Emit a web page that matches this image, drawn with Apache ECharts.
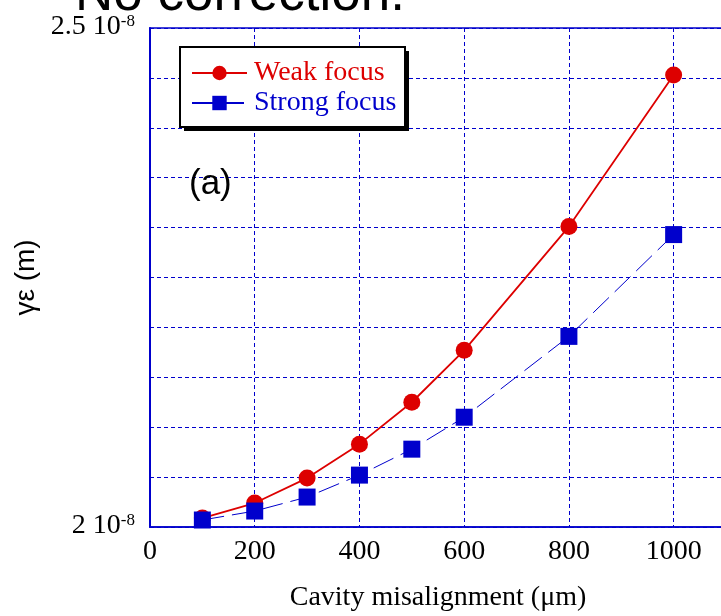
<!DOCTYPE html>
<html><head><meta charset="utf-8">
<script src="https://cdn.jsdelivr.net/npm/echarts@6/dist/echarts.min.js"></script>
<style>html,body{margin:0;padding:0;background:#fff}#c{width:721px;height:616px}</style>
</head><body><div id="c"></div>
<script>
const misalign = [100, 200, 300, 400, 500, 600, 800, 1000];
const weakFocus = [2.009e-8, 2.024e-8, 2.049e-8, 2.083e-8, 2.125e-8, 2.177e-8, 2.301e-8, 2.453e-8];
const strongFocus = [2.007e-8, 2.016e-8, 2.030e-8, 2.052e-8, 2.078e-8, 2.110e-8, 2.191e-8, 2.293e-8];
const xTicks = [0, 200, 400, 600, 800, 1000];
const yTickLabels = {min: ['2 10', '-8'], max: ['2.5 10', '-8']};

const RED = '#dd0000', BLUE = '#0000cc';
const serif = 'Liberation Serif', sans = 'Liberation Sans';
const chart = echarts.init(document.getElementById('c'));
chart.setOption({
  animation: false,
  backgroundColor: '#fff',
  grid: {left: 150, top: 28, width: 576, height: 499, show: true, borderColor: BLUE, borderWidth: 1.5, z: 1,
    containLabel: false, outerBoundsMode: 'none'},
  xAxis: {
    type: 'value', min: 0, max: 1100, interval: 200,
    name: 'Cavity misalignment (\u03bcm)', nameLocation: 'middle', nameGap: 57,
    nameTextStyle: {fontFamily: serif, fontSize: 28, color: '#000'},
    axisLine: {show: true, lineStyle: {color: BLUE, width: 1.5}},
    axisTick: {show: false},
    axisLabel: {fontFamily: serif, fontSize: 28, color: '#000', margin: 11,
      formatter: v => xTicks.includes(v) ? String(v) : ''},
    splitLine: {show: true, lineStyle: {color: BLUE, type: [4, 3], width: 1}}
  },
  yAxis: {
    type: 'value', min: 2e-8, max: 2.5e-8, interval: 0.05e-8,
    name: '\u03b3\u03b5 (m)', nameLocation: 'middle', nameGap: 103,
    nameTextStyle: {fontFamily: sans, fontSize: 28, color: '#000'},
    axisLine: {show: true, lineStyle: {color: BLUE, width: 2}},
    axisTick: {show: false},
    axisLabel: {margin: 15, color: '#000',
      formatter: v => {
        if (Math.abs(v - 2e-8) < 1e-12) return '{b|' + yTickLabels.min[0] + '}{s|' + yTickLabels.min[1] + '}';
        if (Math.abs(v - 2.5e-8) < 1e-12) return '{b|' + yTickLabels.max[0] + '}{s|' + yTickLabels.max[1] + '}';
        return '';
      },
      rich: {
        b: {fontFamily: serif, fontSize: 28, color: '#000', padding: [0, 0, 2, 0]},
        s: {fontFamily: serif, fontSize: 17, color: '#000', verticalAlign: 'top', padding: [0, 0, 0, 0]}
      }
    },
    splitLine: {show: true, lineStyle: {color: BLUE, type: [4, 3], width: 1}}
  },
  legend: {
    left: 191, top: 59, orient: 'vertical', itemGap: 2, itemWidth: 55, itemHeight: 18, z: 20, padding: 0,
    textStyle: {fontFamily: serif, fontSize: 28, padding: [0, 0, 0, 2]},
    data: [
      {name: 'Weak focus', textStyle: {color: RED}},
      {name: 'Strong focus', textStyle: {color: BLUE}}
    ]
  },
  graphic: [
    {type: 'rect', z: 15, shape: {x: 184, y: 51, width: 225, height: 80}, style: {fill: '#000'}},
    {type: 'rect', z: 16, shape: {x: 180, y: 47, width: 225, height: 80}, style: {fill: '#fff', stroke: '#000', lineWidth: 2}},
    {type: 'text', z: 20, left: 189, top: 167, style: {text: '(a)', font: '35px "Liberation Sans"', fill: '#000'}},
    {type: 'text', z: 20, left: 75, top: -31, style: {text: 'No correction.', font: '53px "Liberation Sans"', fill: '#000'}}
  ],
  series: [
    {name: 'Weak focus', type: 'line', data: misalign.map((x, i) => [x, weakFocus[i]]),
      symbol: 'circle', symbolSize: 17, z: 10,
      itemStyle: {color: RED}, lineStyle: {color: RED, width: 1.8}},
    {name: 'Strong focus', type: 'line', data: misalign.map((x, i) => [x, strongFocus[i]]),
      symbol: 'rect', symbolSize: 17, z: 11,
      itemStyle: {color: BLUE}, lineStyle: {color: BLUE, width: 1, type: [22, 8]}}
  ]
});
</script></body></html>
